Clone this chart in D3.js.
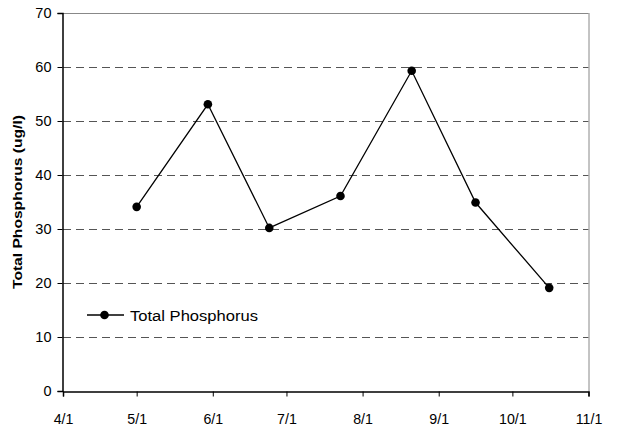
<!DOCTYPE html>
<html><head><meta charset="utf-8">
<script src="https://cdn.jsdelivr.net/npm/d3@7"></script>
<style>body{margin:0;background:#fff}svg{display:block}</style>
</head><body>
<svg id="c" width="620" height="434"></svg>
<script>
const dates = ["2000-05-01","2000-05-30","2000-06-24","2000-07-23","2000-08-21","2000-09-16","2000-10-16"];
const values = [34.1, 53.1, 30.2, 36.1, 59.3, 34.9, 19.1];
const xTickDates = ["2000-04-01","2000-05-01","2000-06-01","2000-07-01","2000-08-01","2000-09-01","2000-10-01","2000-11-01"];
const xTickLabels = ["4/1","5/1","6/1","7/1","8/1","9/1","10/1","11/1"];
const yTicks = [0,10,20,30,40,50,60,70];
const seriesName = "Total Phosphorus";
const yTitle = "Total Phosphorus (ug/l)";

const parse = d3.utcParse("%Y-%m-%d");
const svg = d3.select("#c");
const L = 63, R = 588.5, T = 13, B = 391;
const x = d3.scaleUtc().domain([parse(xTickDates[0]), parse(xTickDates[xTickDates.length-1])]).range([L, R]);
const y = d3.scaleLinear().domain([0, 70]).range([B, T]);
const font = "Arial, 'Liberation Sans', sans-serif";

// gridlines
svg.append("g").selectAll("line").data(yTicks.filter(v => v > 0 && v < 70)).join("line")
  .attr("x1", L).attr("x2", R).attr("y1", d => Math.round(y(d)) + 0.5).attr("y2", d => Math.round(y(d)) + 0.5)
  .attr("stroke", "#555").attr("stroke-width", 1).attr("stroke-dasharray", "8,5");
// top and right border
svg.append("line").attr("x1", L).attr("x2", R).attr("y1", T + 0.5).attr("y2", T + 0.5).attr("stroke", "#888");
svg.append("line").attr("x1", R + 0.5).attr("x2", R + 0.5).attr("y1", T).attr("y2", B).attr("stroke", "#888");

// axes
const yAxis = d3.axisLeft(y).tickValues(yTicks).tickSize(5).tickPadding(6);
const gy = svg.append("g").attr("transform", `translate(${L - 0.5},0)`).call(yAxis);
gy.selectAll("text").attr("font-family", font).attr("font-size", 14.5).attr("fill", "#000");
gy.select(".domain").attr("stroke", "#000").attr("stroke-width", 1.5);

const xAxis = d3.axisBottom(x).tickValues(xTickDates.map(parse)).tickFormat((d, i) => xTickLabels[i]).tickSize(5).tickPadding(17);
const gx = svg.append("g").attr("transform", `translate(0,${B + 0.5})`).call(xAxis);
gx.selectAll("text").attr("font-family", font).attr("font-size", 14.2).attr("fill", "#000");
gx.select(".domain").attr("stroke", "#000").attr("stroke-width", 1.5);

// line
const data = dates.map((d, i) => ({ d: parse(d), v: values[i] }));
svg.append("path").datum(data)
  .attr("fill", "none").attr("stroke", "#000").attr("stroke-width", 1.3)
  .attr("d", d3.line().x(d => x(d.d)).y(d => y(d.v)));
svg.append("g").selectAll("circle").data(data).join("circle")
  .attr("cx", d => x(d.d)).attr("cy", d => y(d.v)).attr("r", 4.3).attr("fill", "#000");

// legend
const lg = svg.append("g").attr("transform", "translate(87,315)");
lg.append("line").attr("x1", 0).attr("x2", 37).attr("stroke", "#000").attr("stroke-width", 1.3);
lg.append("circle").attr("cx", 17.5).attr("r", 4.3).attr("fill", "#000");
lg.append("text").attr("x", 43).attr("y", 5.5).attr("font-family", font).attr("font-size", 15.5)
  .attr("textLength", 128).attr("lengthAdjust", "spacingAndGlyphs").text(seriesName);

// y title
svg.append("text").attr("transform", `translate(21.5,${(T + B) / 2}) rotate(-90)`)
  .attr("text-anchor", "middle").attr("font-family", font).attr("font-size", 13).attr("font-weight", "bold")
  .attr("textLength", 174).attr("lengthAdjust", "spacingAndGlyphs").text(yTitle);
</script>
</body></html>
